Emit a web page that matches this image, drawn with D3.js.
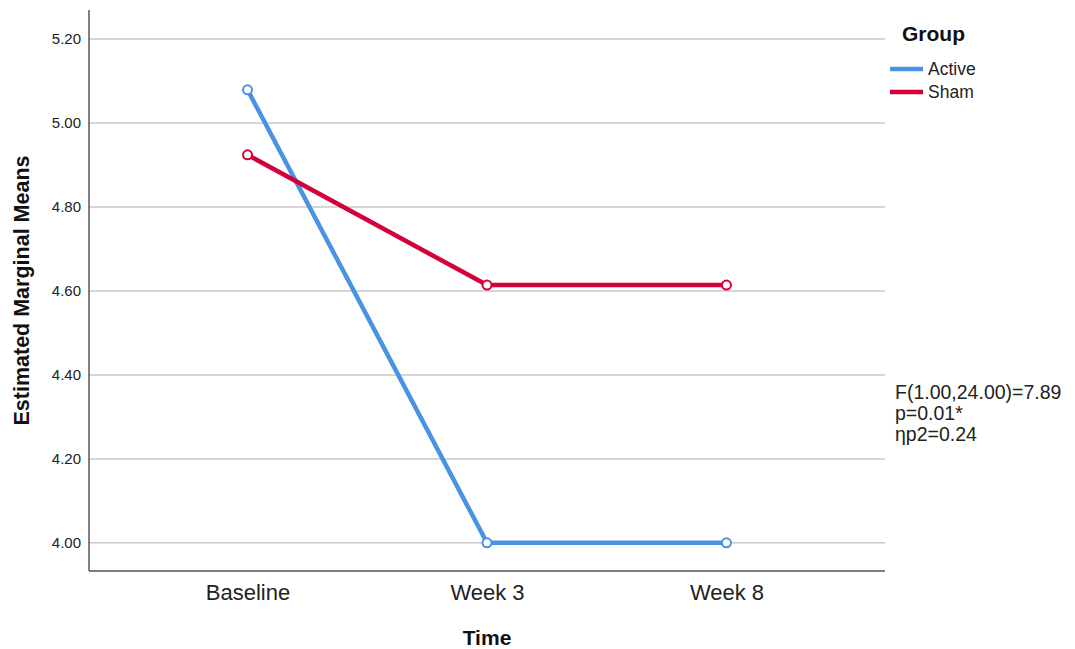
<!DOCTYPE html>
<html>
<head>
<meta charset="utf-8">
<script src="https://cdn.jsdelivr.net/npm/d3@7"></script>
<style>
  body { margin: 0; background: #fff; }
  svg { font-family: "Liberation Sans", Arial, sans-serif; }
</style>
</head>
<body>
<svg width="1075" height="649"></svg>
<script>
// data
const times = ["Baseline", "Week 3", "Week 8"];
const groups = ["Active", "Sham"];
const activeMeans = [5.079, 4.00, 4.00];
const shamMeans = [4.924, 4.614, 4.614];
const yTicks = [4.00, 4.20, 4.40, 4.60, 4.80, 5.00, 5.20];
const statLines = ["F(1.00,24.00)=7.89", "p=0.01*", "\u03b7p2=0.24"];

const colors = { Active: "#4a92e4", Sham: "#d3003a" };

const svg = d3.select("svg");
const plotLeft = 89, plotRight = 885, plotTop = 10, plotBottom = 571;

const x = d3.scalePoint().domain(times).range([plotLeft, plotRight]).padding(0.662);
const y = d3.scaleLinear().domain([3.933, 5.269]).range([plotBottom, plotTop]);

// gridlines
svg.append("g").selectAll("line")
  .data(yTicks)
  .join("line")
  .attr("x1", plotLeft).attr("x2", plotRight)
  .attr("y1", d => y(d)).attr("y2", d => y(d))
  .attr("stroke", "#c9c9c9")
  .attr("stroke-width", 1.5);

// y axis
const yAxis = svg.append("g")
  .attr("transform", `translate(${plotLeft},0)`)
  .call(d3.axisLeft(y).tickValues(yTicks).tickFormat(d3.format(".2f")).tickSize(0).tickPadding(8));
yAxis.select(".domain").remove();
yAxis.selectAll("text").attr("font-size", 15).attr("fill", "#222");

// x axis
const xAxis = svg.append("g")
  .attr("transform", `translate(0,${plotBottom})`)
  .call(d3.axisBottom(x).tickSize(0).tickPadding(13));
xAxis.select(".domain").remove();
xAxis.selectAll("text").attr("font-size", 22).attr("fill", "#222");

// axis lines
svg.append("line").attr("x1", plotLeft).attr("x2", plotLeft).attr("y1", plotTop).attr("y2", plotBottom)
  .attr("stroke", "#555").attr("stroke-width", 1.5);
svg.append("line").attr("x1", plotLeft).attr("x2", plotRight).attr("y1", plotBottom).attr("y2", plotBottom)
  .attr("stroke", "#555").attr("stroke-width", 1.5);

// series
const series = [
  { name: "Active", values: activeMeans },
  { name: "Sham", values: shamMeans }
];

const line = d3.line()
  .x((d, i) => x(times[i]))
  .y(d => y(d));

series.forEach(s => {
  svg.append("path")
    .datum(s.values)
    .attr("d", line)
    .attr("fill", "none")
    .attr("stroke", colors[s.name])
    .attr("stroke-width", 4.5);
  svg.append("g").selectAll("circle")
    .data(s.values)
    .join("circle")
    .attr("cx", (d, i) => x(times[i]))
    .attr("cy", d => y(d))
    .attr("r", 4.5)
    .attr("fill", "#fff")
    .attr("stroke", colors[s.name])
    .attr("stroke-width", 2);
});

// axis titles
svg.append("text")
  .attr("transform", `translate(29,${(plotTop + plotBottom) / 2}) rotate(-90)`)
  .attr("text-anchor", "middle")
  .attr("font-size", 21.5)
  .attr("font-weight", "bold")
  .attr("fill", "#111")
  .text("Estimated Marginal Means");

svg.append("text")
  .attr("x", x("Week 3"))
  .attr("y", 645)
  .attr("text-anchor", "middle")
  .attr("font-size", 21)
  .attr("font-weight", "bold")
  .attr("fill", "#111")
  .text("Time");

// legend
svg.append("text")
  .attr("x", 902).attr("y", 41)
  .attr("font-size", 21)
  .attr("font-weight", "bold")
  .attr("fill", "#111")
  .text("Group");

groups.forEach((g, i) => {
  const ly = 69 + i * 23;
  svg.append("line")
    .attr("x1", 890).attr("x2", 923)
    .attr("y1", ly).attr("y2", ly)
    .attr("stroke", colors[g]).attr("stroke-width", 4.5);
  svg.append("text")
    .attr("x", 928).attr("y", ly + 6)
    .attr("font-size", 17.5)
    .attr("fill", "#222")
    .text(g);
});

// stats annotation
svg.append("g").selectAll("text")
  .data(statLines)
  .join("text")
  .attr("x", 895)
  .attr("y", (d, i) => 399 + i * 21)
  .attr("font-size", 19.5)
  .attr("fill", "#222")
  .text(d => d);
</script>
</body>
</html>
